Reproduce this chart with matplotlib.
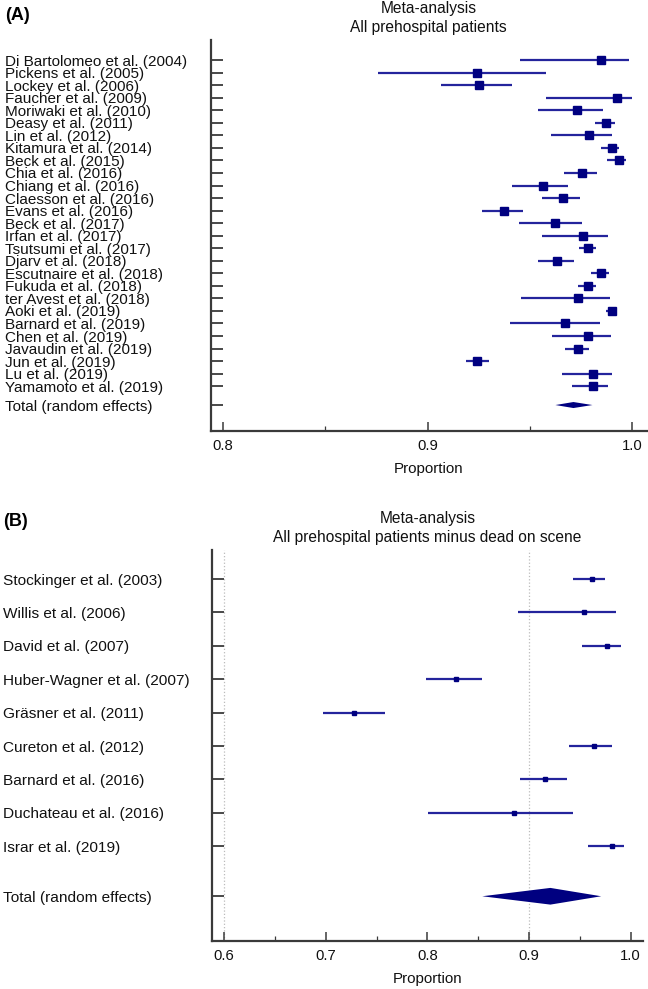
import matplotlib
matplotlib.use("Agg")
import matplotlib.pyplot as plt
from matplotlib.ticker import MultipleLocator
import numpy as np

plt.rcParams['font.family'] = ['Liberation Sans', 'DejaVu Sans']

# panel A: all prehospital patients
studies_a = ["Di Bartolomeo et al. (2004)", "Pickens et al. (2005)", "Lockey et al. (2006)",
             "Faucher et al. (2009)", "Moriwaki et al. (2010)", "Deasy et al. (2011)",
             "Lin et al. (2012)", "Kitamura et al. (2014)", "Beck et al. (2015)",
             "Chia et al. (2016)", "Chiang et al. (2016)", "Claesson et al. (2016)",
             "Evans et al. (2016)", "Beck et al. (2017)", "Irfan et al. (2017)",
             "Tsutsumi et al. (2017)", "Djarv et al. (2018)", "Escutnaire et al. (2018)",
             "Fukuda et al. (2018)", "ter Avest et al. (2018)", "Aoki et al. (2019)",
             "Barnard et al. (2019)", "Chen et al. (2019)", "Javaudin et al. (2019)",
             "Jun et al. (2019)", "Lu et al. (2019)", "Yamamoto et al. (2019)"]
est_a = [0.9845, 0.924, 0.9253, 0.9923, 0.9728, 0.9873, 0.979, 0.9899, 0.9935,
         0.9756, 0.9565, 0.966, 0.9372, 0.9622, 0.9757, 0.9785, 0.9634, 0.9847,
         0.9782, 0.9734, 0.9902, 0.9673, 0.9785, 0.9733, 0.9243, 0.9807, 0.981]
lo_a = [0.9451, 0.8755, 0.9064, 0.9577, 0.9541, 0.9817, 0.9603, 0.9847, 0.9874,
        0.9666, 0.9411, 0.9559, 0.9264, 0.9448, 0.9559, 0.9738, 0.9538, 0.9798,
        0.9734, 0.9458, 0.987, 0.9404, 0.9609, 0.9671, 0.9185, 0.9655, 0.9706]
hi_a = [0.9984, 0.9579, 0.9414, 1.0, 0.9855, 0.9915, 0.9902, 0.9936, 0.9969,
        0.9826, 0.9687, 0.9743, 0.9464, 0.9754, 0.9883, 0.9824, 0.9717, 0.9887,
        0.9821, 0.9892, 0.9925, 0.984, 0.9897, 0.9787, 0.930, 0.9902, 0.9883]
total_a = (0.9712, 0.9624, 0.9805)  # estimate, lower, upper

# panel B: all prehospital patients minus dead on scene
studies_b = ["Stockinger et al. (2003)", "Willis et al. (2006)", "David et al. (2007)",
             "Huber-Wagner et al. (2007)", "Gräsner et al. (2011)", "Cureton et al. (2012)",
             "Barnard et al. (2016)", "Duchateau et al. (2016)", "Israr et al. (2019)"]
est_b = [0.962, 0.954, 0.977, 0.828, 0.728, 0.964, 0.916, 0.885, 0.982]
lo_b = [0.943, 0.889, 0.952, 0.799, 0.697, 0.939, 0.891, 0.801, 0.958]
hi_b = [0.975, 0.986, 0.990, 0.854, 0.758, 0.982, 0.937, 0.943, 0.993]
total_b = (0.921, 0.854, 0.971)

total_label = "Total (random effects)"
line_col = '#24249c'
mark_col = '#000080'
spine_col = '#3a3a3a'
W, H = 648, 989


def forest(ax, names, est, lo, hi, total, msize, dh, ylim, xlim, label_x, title):
    n = len(names)
    ys = np.arange(n)
    yt = n + 0.5
    ax.hlines(ys, lo, hi, color=line_col, lw=1.6, zorder=2)
    ax.plot(est, ys, 's', color=mark_col, ms=msize, zorder=3)
    m, l, h = total
    ax.fill([l, m, h, m], [yt, yt - dh, yt, yt + dh], color=mark_col, lw=0, zorder=3)
    ax.set_ylim(*ylim)
    ax.set_xlim(*xlim)
    for s in ['top', 'right']:
        ax.spines[s].set_visible(False)
    for s in ['left', 'bottom']:
        ax.spines[s].set_linewidth(1.6)
        ax.spines[s].set_color(spine_col)
    pos = ax.get_position()
    pad = (pos.x0 * W - label_x) / 100 * 72
    ax.set_yticks(list(ys) + [yt])
    ax.set_yticklabels(list(names) + [total_label], ha='left', color='#111111')
    ax.tick_params(axis='y', direction='in', length=8.5, width=1.3, color=spine_col, pad=pad)
    ax.tick_params(axis='x', which='major', direction='in', length=6.5, width=1.1,
                   color=spine_col, pad=6, labelsize=10.7, labelcolor='#111111')
    ax.tick_params(axis='x', which='minor', direction='in', length=3.5, width=0.9, color=spine_col)
    ax.xaxis.set_major_locator(MultipleLocator(0.1))
    ax.xaxis.set_minor_locator(MultipleLocator(0.05))
    ax.xaxis.set_major_formatter(matplotlib.ticker.FormatStrFormatter('%.1f'))
    ax.set_xlabel("Proportion", fontsize=10.9, labelpad=6.5, color='#111111')
    ax.set_title(title, fontsize=11.2, pad=6, linespacing=1.3, color='#111111')


fig = plt.figure(figsize=(W / 100, H / 100), dpi=100)
ax_a = fig.add_axes([210.7 / W, 1 - 431 / H, 436 / W, 391 / H])
ax_b = fig.add_axes([211.7 / W, 1 - 941 / H, 431.3 / W, 391 / H])

forest(ax_a, studies_a, est_a, lo_a, hi_a, total_a, 6, 0.24, (29.57, -1.6), (0.794, 1.007), 5,
       "Meta-analysis\nAll prehospital patients")
for t in ax_a.get_yticklabels():
    t.set_fontsize(11)

for xv in [0.6, 0.9]:
    ax_b.axvline(xv, color='#bbbbbb', ls=':', lw=0.9, zorder=1)
forest(ax_b, studies_b, est_b, lo_b, hi_b, total_b, 3.2, 0.25, (10.84, -0.87), (0.5879, 1.0121), 3,
       "Meta-analysis\nAll prehospital patients minus dead on scene")
for t in ax_b.get_yticklabels():
    t.set_fontsize(11.1)

fig.text(5 / W, 1 - 16 / H, "(A)", fontsize=13, fontweight='bold', va='center', ha='left')
fig.text(3 / W, 1 - 522 / H, "(B)", fontsize=13, fontweight='bold', va='center', ha='left')

fig.savefig("out.png", dpi=100)
